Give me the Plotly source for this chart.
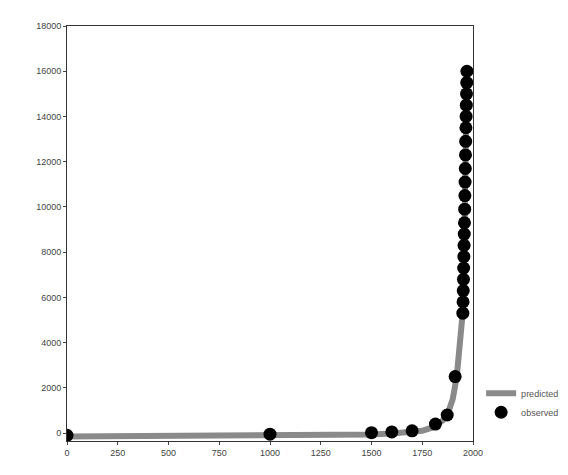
import plotly.graph_objects as go

# observed values
obs_year = [0, 1000, 1500, 1600, 1700, 1815, 1873, 1912,
            1950, 1951, 1952, 1953, 1954, 1955, 1956, 1957, 1958, 1959, 1960,
            1961, 1962, 1963, 1964, 1965, 1966, 1967, 1968, 1969, 1970]
obs_val = [-100, -50, 20, 50, 100, 400, 800, 2500,
           5300, 5800, 6300, 6800, 7300, 7800, 8300, 8800, 9300, 9900,
           10500, 11100, 11700, 12300, 12900, 13500, 14000, 14500, 15000, 15500, 16000]

# predicted curve
pred_year = [0, 500, 1000, 1250, 1500, 1600, 1700, 1750, 1800, 1850, 1875,
             1900, 1920, 1930, 1940, 1950, 1955, 1960, 1965, 1970]
pred_val = [-150, -140, -120, -100, -60, -20, 40, 100, 250, 550, 850,
            1500, 2500, 3300, 4300, 5400, 7200, 9600, 12500, 16000]

y_ticks = list(range(0, 18001, 2000))

fig = go.Figure()
fig.add_trace(go.Scatter(x=pred_year, y=pred_val, mode="lines", name="predicted",
                         line=dict(color="#8a8a8a", width=6)))
fig.add_trace(go.Scatter(x=obs_year, y=obs_val, mode="markers", name="observed",
                         marker=dict(color="black", size=13)))

fig.update_layout(
    width=568, height=475,
    paper_bgcolor="white", plot_bgcolor="white",
    margin=dict(l=59, r=82, t=18, b=42),
    font=dict(family="Liberation Sans", size=9, color="#444"),
    legend=dict(x=1.02, y=0.15, yanchor="top", xanchor="left",
                font=dict(size=9, color="#555"), tracegroupgap=22),
)
fig.update_xaxes(range=[0, 2000], tickvals=list(range(0, 2001, 250)),
                 showgrid=False, zeroline=False, showline=True, linecolor="#333",
                 mirror=True, ticks="outside", ticklen=3)
fig.update_yaxes(range=[-350, 18000], tickvals=y_ticks, ticktext=[str(v) for v in y_ticks],
                 showgrid=False, zeroline=False, showline=True, linecolor="#333",
                 mirror=True, ticks="outside", ticklen=3)

fig.write_html("out.html")
